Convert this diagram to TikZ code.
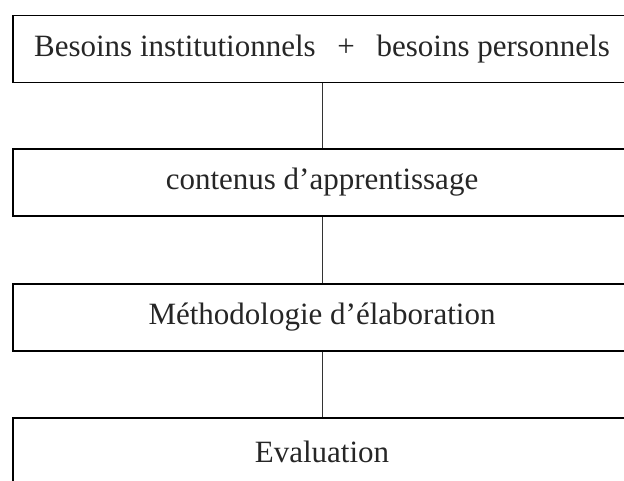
\documentclass[tikz,border=0pt]{standalone}
\usepackage{fontspec}
\setmainfont{Liberation Serif}

\begin{document}
\begin{tikzpicture}[
    x=1pt, y=-1pt,
    every node/.style={rectangle, draw, line width=1.2pt, minimum width=618pt, minimum height=67pt,
                       inner sep=0pt, text=black!85, font=\fontsize{31}{37}\selectfont},
    every edge/.style={draw, line width=1pt, black!80},
]
  \useasboundingbox (0,0) rectangle (624,480);
  \clip (0,0) rectangle (624,480);
  \node []   (besoins)  at (322,49   )  {Besoins institutionnels \hspace{0.45em}+\hspace{0.45em} besoins personnels};
  \node []   (contenus) at (322,182.5)  {contenus d’apprentissage}     edge [-] (besoins);
  \node []   (methodo)  at (322,317.5)  {Méthodologie d’élaboration}   edge [-] (contenus);
  \node []   (eval)     at (322,451.5)  {Evaluation}                   edge [-] (methodo);
\end{tikzpicture}
\end{document}
